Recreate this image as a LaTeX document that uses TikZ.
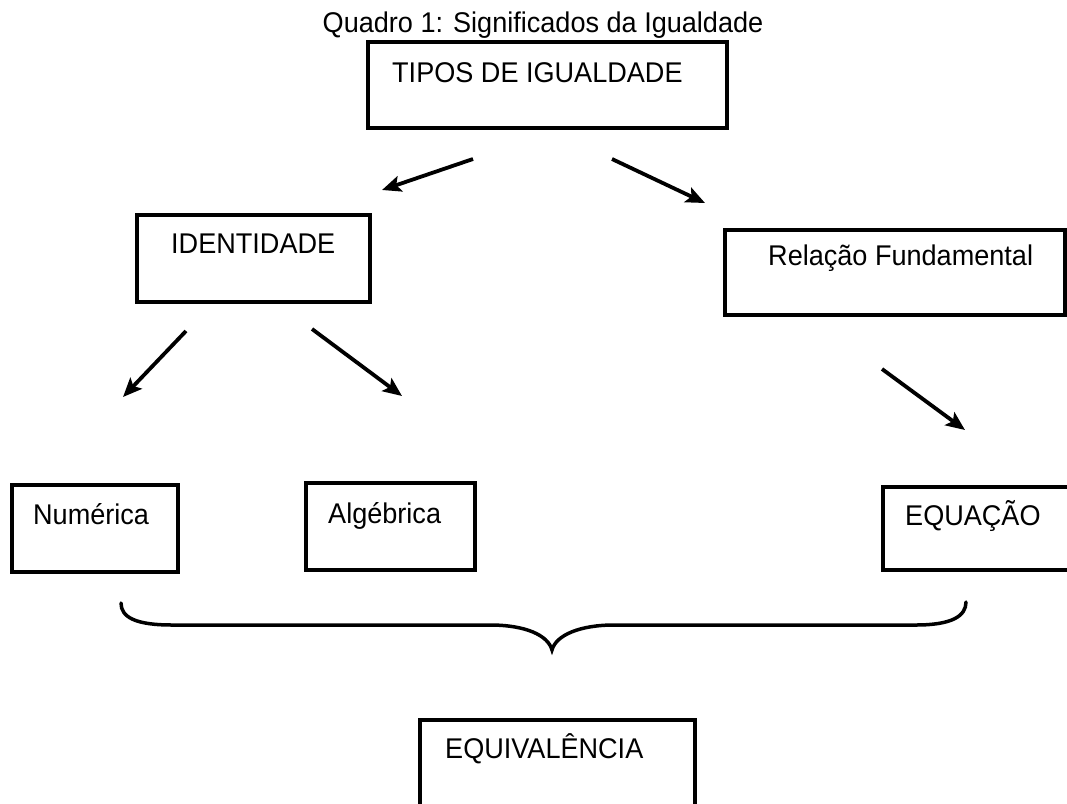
\documentclass[tikz,border=0pt]{standalone}
\usepackage{fontspec}
\setmainfont{Liberation Sans}
\newfontfamily\narrowsans{Liberation Sans}[FakeStretch=0.95]
\usetikzlibrary{arrows.meta}
\begin{document}
\begin{tikzpicture}[x=1pt,y=-1pt,
  box/.style={draw, line width=4pt, inner sep=0pt, rectangle},
  lbl/.style={anchor=base west, inner sep=0pt, font=\narrowsans\fontsize{28.5}{34}\selectfont},
  ttl/.style={anchor=base, inner sep=0pt, font=\narrowsans\fontsize{28.5}{34}\selectfont},
  arr/.style={line width=3.8pt, -{Stealth[length=19pt,width=16pt,inset=4pt]}},
  brace/.style={line width=3.5pt, line cap=round}]
\path[use as bounding box] (0,0) rectangle (1067,803);
\clip (0,0) rectangle (1067,803);
\fill[white] (0,0) rectangle (1067,803);

\node[ttl] (title) at (543,32) {Quadro 1: Significados da Igualdade};

\node[box, minimum width=359pt, minimum height=86pt] (tipos) at (547.5,85) {};
\node[lbl] (tiposT) at (392,82) {TIPOS DE IGUALDADE};

\node[box, minimum width=233pt, minimum height=87pt] (ident) at (253.5,258.5) {};
\node[lbl] (identT) at (171,253) {IDENTIDADE};

\node[box, minimum width=340pt, minimum height=85pt] (rel) at (895,272.5) {};
\node[lbl] (relT) at (768,265) {Relação Fundamental};

\node[box, minimum width=166pt, minimum height=87pt] (num) at (95,528.5) {};
\node[lbl] (numT) at (33,524) {Numérica};

\node[box, minimum width=169pt, minimum height=87pt] (alg) at (390.5,526.5) {};
\node[lbl] (algT) at (328,523) {Algébrica};

\node[box, minimum width=197pt, minimum height=83pt] (equ) at (981.5,528.5) {};
\node[lbl] (equT) at (905,525) {EQUAÇÃO};

\node[box, minimum width=275pt, minimum height=100pt] (eqv) at (557.5,770) {};
\node[lbl] (eqvT) at (445,758) {EQUIVALÊNCIA};

\coordinate (a1s) at (473,159); \coordinate (a1e) at (382,190);
\coordinate (a2s) at (612,159); \coordinate (a2e) at (705,203);
\coordinate (a3s) at (186,331); \coordinate (a3e) at (123,397);
\coordinate (a4s) at (312,329); \coordinate (a4e) at (402,396);
\coordinate (a5s) at (882,369); \coordinate (a5e) at (965,430);
\draw[arr] (a1s) -- (a1e);
\draw[arr] (a2s) -- (a2e);
\draw[arr] (a3s) -- (a3e);
\draw[arr] (a4s) -- (a4e);
\draw[arr] (a5s) -- (a5e);

\coordinate (bl) at (121,603);
\coordinate (bt) at (552,650);
\coordinate (br) at (966,602);
\draw[brace] (bl) .. controls (121,617) and (135,625) .. (172,625)
  -- (490,625) .. controls (525,625) and (548,635) .. (bt)
  .. controls (556,635) and (580,625) .. (614,625)
  -- (916,625) .. controls (952,625) and (966,616) .. (br);
\end{tikzpicture}
\end{document}
